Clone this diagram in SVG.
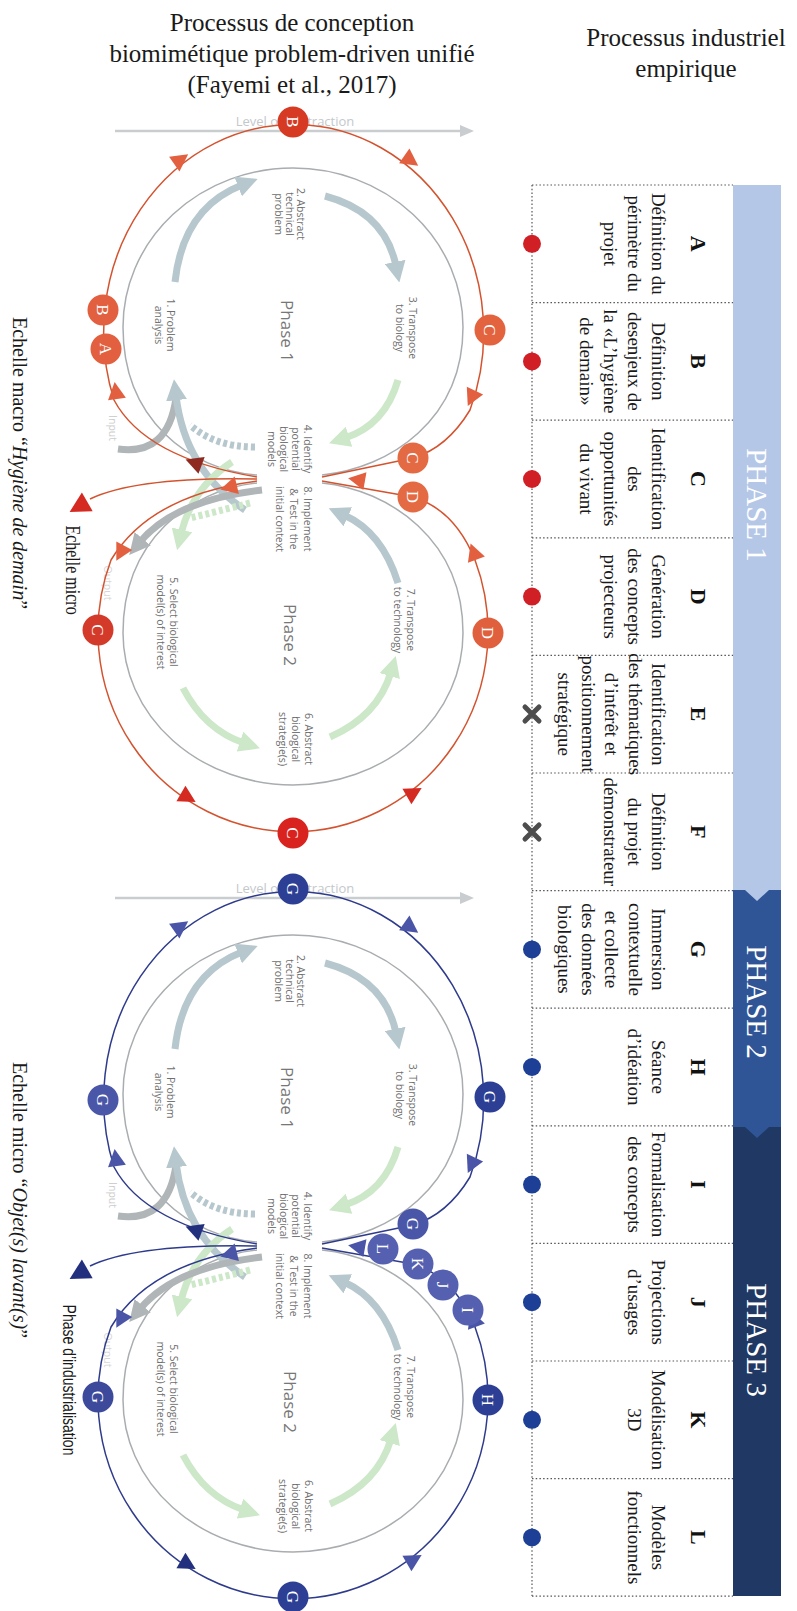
<svg xmlns="http://www.w3.org/2000/svg" width="797" height="1611" viewBox="0 0 797 1611">
<style>
.serif{font-family:"Liberation Serif","Times New Roman",serif}
.title{font-size:25px;fill:#1a1a1a;text-anchor:middle}
.cell{font-size:19px;fill:#1a1a1a;text-anchor:middle}
.letter{font-size:22px;font-weight:bold;fill:#111;text-anchor:middle}
.phase{font-size:29px;fill:#fff;text-anchor:middle}
.fl{font-family:"Open Sans","Liberation Sans",sans-serif;font-size:10.5px;fill:#6e6e6e;text-anchor:middle}
.fp{font-family:"Open Sans","Liberation Sans",sans-serif;font-size:17px;fill:#777;text-anchor:middle}
.lvl{font-family:"Open Sans","Liberation Sans",sans-serif;font-size:13px;fill:#c4c8cb;text-anchor:middle}
.inner{fill:none;stroke:#a9adb0;stroke-width:1.5}
.thk{fill:none;stroke-width:7}
.gb{stroke:#b6c7cd}
.gr{stroke:#cde7c9}
.gy{stroke:#b0b5b7}
.dot{stroke:#555;stroke-width:1.2;stroke-dasharray:1.5 2.2;fill:none}
.rl{fill:none;stroke:#d4532f;stroke-width:1.5}
.bl{fill:none;stroke:#2e3b8c;stroke-width:1.5}
.lc{font-family:"Liberation Serif","Times New Roman",serif;font-size:17px;fill:#fff;text-anchor:middle}
.side{font-family:"Liberation Serif","Times New Roman",serif;font-size:20px;fill:#1a1a1a;text-anchor:middle}
.co{fill:#e2603f}
.cr{fill:#d42a22}
.cdk{fill:#8e2a20}
.cb{fill:#4a55a8}
.cbd{fill:#22307e}
</style>
<defs>
<path id="tri" d="M10,0 L-7,-9 L-7,9 Z"/>
<marker id="mgb" viewBox="0 0 10 10" refX="2" refY="5" markerWidth="3" markerHeight="3" orient="auto"><path d="M0,0 L10,5 L0,10 Z" fill="#b6c7cd"/></marker>
<marker id="mgr" viewBox="0 0 10 10" refX="2" refY="5" markerWidth="3" markerHeight="3" orient="auto"><path d="M0,0 L10,5 L0,10 Z" fill="#cde7c9"/></marker>
<marker id="mgy" viewBox="0 0 10 10" refX="2" refY="5" markerWidth="3" markerHeight="3" orient="auto"><path d="M0,0 L10,5 L0,10 Z" fill="#b0b5b7"/></marker>
<g id="fay">
  <line x1="115" y1="131" x2="462" y2="131" stroke="#c9cdd0" stroke-width="2.5"/>
  <path d="M474,131 L460,125 L460,137 Z" fill="#c9cdd0"/>
  <text class="lvl" x="295" y="126">Level of abstraction</text>
  <path class="inner" d="M257,475 C190,470 123,420 123,327 A170,159 0 0 1 463,327 C463,420 390,468 322,475"/>
  <path class="inner" d="M257,483 C190,490 123,540 123,633 A170,152 0 0 0 463,633 C463,540 390,490 322,483"/>
  <path class="thk gb" marker-end="url(#mgb)" d="M175,282 Q183,208 242,185"/>
  <path class="thk gb" marker-end="url(#mgb)" d="M325,196 Q385,212 396,266"/>
  <path class="thk gr" marker-end="url(#mgr)" d="M398,380 Q385,425 345,438"/>
  <path class="thk gb" stroke-dasharray="4 3" d="M255,447 Q215,447 190,425"/>
  <path class="thk gy" d="M118,449 Q168,456 176,398"/>
  <path class="thk gb" marker-end="url(#mgb)" d="M245,510 Q185,470 176,396"/>
  <path class="thk gr" marker-end="url(#mgr)" d="M232,462 Q192,488 181,534"/>
  <path class="thk gr" marker-end="url(#mgr)" d="M183,688 Q205,730 244,743"/>
  <path class="thk gr" marker-end="url(#mgr)" d="M330,737 Q378,716 391,672"/>
  <path class="thk gb" marker-end="url(#mgb)" d="M398,583 Q382,532 344,515"/>
  <path class="thk gy" marker-end="url(#mgy)" d="M262,490 Q175,500 140,542"/>
  <path class="thk gr" stroke-dasharray="4 3" d="M250,503 Q215,512 190,518"/>
  <text class="fl" transform="translate(297,214) rotate(90)"><tspan x="0">2. Abstract</tspan><tspan x="0" dy="11">technical</tspan><tspan x="0" dy="11">problem</tspan></text>
  <text class="fl" transform="translate(167,325) rotate(90)"><tspan x="0">1. Problem</tspan><tspan x="0" dy="12">analysis</tspan></text>
  <text class="fl" transform="translate(409,328) rotate(90)"><tspan x="0">3. Transpose</tspan><tspan x="0" dy="13">to biology</tspan></text>
  <text class="fp" transform="translate(281,331) rotate(90)">Phase 1</text>
  <text class="fl" transform="translate(304,449) rotate(90)"><tspan x="0">4. Identify</tspan><tspan x="0" dy="12">potential</tspan><tspan x="0" dy="12">biological</tspan><tspan x="0" dy="12">models</tspan></text>
  <text class="fl" transform="translate(304,519) rotate(90)"><tspan x="0">8. Implement</tspan><tspan x="0" dy="14">&amp; Test in the</tspan><tspan x="0" dy="14">initial context</tspan></text>
  <text class="fl" transform="translate(170,622) rotate(90)"><tspan x="0">5. Select biological</tspan><tspan x="0" dy="13">model(s) of interest</tspan></text>
  <text class="fp" transform="translate(284,635) rotate(90)">Phase 2</text>
  <text class="fl" transform="translate(305,739) rotate(90)"><tspan x="0">6. Abstract</tspan><tspan x="0" dy="13">biological</tspan><tspan x="0" dy="13">strategie(s)</tspan></text>
  <text class="fl" transform="translate(407,620) rotate(90)"><tspan x="0">7. Transpose</tspan><tspan x="0" dy="13">to technology</tspan></text>
  <text class="fl" transform="translate(109,428) rotate(90)" style="fill:#cccccc">Input</text>
  <text class="fl" transform="translate(104,583) rotate(90)" style="fill:#d6d6d6">Output</text>
</g>
</defs>

<rect width="797" height="1611" fill="#ffffff"/>

<g id="titles" class="serif">
  <text class="title" x="292" y="31">Processus de conception</text>
  <text class="title" x="292" y="62">biomimétique problem-driven unifié</text>
  <text class="title" x="292" y="93">(Fayemi et al., 2017)</text>
  <text class="title" x="686" y="46">Processus industriel</text>
  <text class="title" x="686" y="77">empirique</text>
</g>

<g id="phase-band">
  <rect x="733" y="1127" width="48" height="469" fill="#1f3864"/>
  <path d="M733,890 H781 V1127 H769 L757,1138 L745,1127 H733 Z" fill="#2f5597"/>
  <path d="M733,185 H781 V890 H769 L757,901 L745,890 H733 Z" fill="#b4c7e7"/>
  <text class="serif phase" transform="translate(747,505) rotate(90)">PHASE 1</text>
  <text class="serif phase" transform="translate(747,1002) rotate(90)">PHASE 2</text>
  <text class="serif phase" transform="translate(747,1340) rotate(90)">PHASE 3</text>
</g>

<g id="table-grid">
  <path class="dot" d="M532,185 V1596"/>
  <path class="dot" d="M532,185 H733 M532,302.6 H733 M532,420.2 H733 M532,537.8 H733 M532,655.4 H733 M532,773 H733 M532,890.6 H733 M532,1008.2 H733 M532,1125.8 H733 M532,1243.4 H733 M532,1361 H733 M532,1478.6 H733 M532,1596.2 H733"/>
</g>

<g id="row-A"><text class="serif letter" transform="translate(691,243.8) rotate(90)">A</text><text class="serif cell" transform="translate(652,243.8) rotate(90)"><tspan x="0">Définition du</tspan><tspan x="0" dy="24">périmètre du</tspan><tspan x="0" dy="24">projet</tspan></text><circle cx="532" cy="243.8" r="9" fill="#d11f26"/></g>
<g id="row-B"><text class="serif letter" transform="translate(691,361.4) rotate(90)">B</text><text class="serif cell" transform="translate(652,361.4) rotate(90)"><tspan x="0">Définition</tspan><tspan x="0" dy="24">desenjeux de</tspan><tspan x="0" dy="24">la «L’hygiène</tspan><tspan x="0" dy="24">de demain»</tspan></text><circle cx="532" cy="361.4" r="9" fill="#d11f26"/></g>
<g id="row-C"><text class="serif letter" transform="translate(691,479) rotate(90)">C</text><text class="serif cell" transform="translate(652,479) rotate(90)"><tspan x="0">Identification</tspan><tspan x="0" dy="24">des</tspan><tspan x="0" dy="24">opportunités</tspan><tspan x="0" dy="24">du vivant</tspan></text><circle cx="532" cy="479" r="9" fill="#d11f26"/></g>
<g id="row-D"><text class="serif letter" transform="translate(691,596.6) rotate(90)">D</text><text class="serif cell" transform="translate(652,596.6) rotate(90)"><tspan x="0">Génération</tspan><tspan x="0" dy="24">des concepts</tspan><tspan x="0" dy="24">projecteurs</tspan></text><circle cx="532" cy="596.6" r="9" fill="#d11f26"/></g>
<g id="row-E"><text class="serif letter" transform="translate(691,714.2) rotate(90)">E</text><text class="serif cell" transform="translate(652,714.2) rotate(90)"><tspan x="0">Identification</tspan><tspan x="0" dy="23.5">des thématiques</tspan><tspan x="0" dy="23.5">d’intérêt et</tspan><tspan x="0" dy="23.5">positionnement</tspan><tspan x="0" dy="23.5">stratégique</tspan></text><path d="M525,707 L539,721 M539,707 L525,721" stroke="#4d4d4d" stroke-width="5" stroke-linecap="round"/></g>
<g id="row-F"><text class="serif letter" transform="translate(691,831.8) rotate(90)">F</text><text class="serif cell" transform="translate(652,831.8) rotate(90)"><tspan x="0">Définition</tspan><tspan x="0" dy="24">du projet</tspan><tspan x="0" dy="24">démonstrateur</tspan></text><path d="M525,825 L539,839 M539,825 L525,839" stroke="#4d4d4d" stroke-width="5" stroke-linecap="round"/></g>
<g id="row-G"><text class="serif letter" transform="translate(691,949.4) rotate(90)">G</text><text class="serif cell" transform="translate(652,949.4) rotate(90)"><tspan x="0">Immersion</tspan><tspan x="0" dy="23.5">contextuelle</tspan><tspan x="0" dy="23.5">et collecte</tspan><tspan x="0" dy="23.5">des données</tspan><tspan x="0" dy="23.5">biologiques</tspan></text><circle cx="532" cy="949.4" r="9" fill="#1e3f96"/></g>
<g id="row-H"><text class="serif letter" transform="translate(691,1067) rotate(90)">H</text><text class="serif cell" transform="translate(652,1067) rotate(90)"><tspan x="0">Séance</tspan><tspan x="0" dy="24">d’idéation</tspan></text><circle cx="532" cy="1067" r="9" fill="#1e3f96"/></g>
<g id="row-I"><text class="serif letter" transform="translate(691,1184.6) rotate(90)">I</text><text class="serif cell" transform="translate(652,1184.6) rotate(90)"><tspan x="0">Formalisation</tspan><tspan x="0" dy="24">des concepts</tspan></text><circle cx="532" cy="1184.6" r="9" fill="#1e3f96"/></g>
<g id="row-J"><text class="serif letter" transform="translate(691,1302.2) rotate(90)">J</text><text class="serif cell" transform="translate(652,1302.2) rotate(90)"><tspan x="0">Projections</tspan><tspan x="0" dy="24">d’usages</tspan></text><circle cx="532" cy="1302.2" r="9" fill="#1e3f96"/></g>
<g id="row-K"><text class="serif letter" transform="translate(691,1419.8) rotate(90)">K</text><text class="serif cell" transform="translate(652,1419.8) rotate(90)"><tspan x="0">Modélisation</tspan><tspan x="0" dy="24">3D</tspan></text><circle cx="532" cy="1419.8" r="9" fill="#1e3f96"/></g>
<g id="row-L"><text class="serif letter" transform="translate(691,1537.4) rotate(90)">L</text><text class="serif cell" transform="translate(652,1537.4) rotate(90)"><tspan x="0">Modèles</tspan><tspan x="0" dy="24">fonctionnels</tspan></text><circle cx="532" cy="1537.4" r="9" fill="#1e3f96"/></g>

<g id="fayemi-macro"><use href="#fay"/></g>
<g id="fayemi-micro"><use href="#fay" transform="translate(0,767)"/></g>

<g id="connectors">
  <g id="red-loops">
    <path class="rl" d="M257,477 Q145,458 114,400 A190,208 0 1 1 470,410 Q447,448 413,458 L322,477"/>
    <path class="rl" d="M257,481 Q150,495 111,560 A195,200 0 1 0 475,560 Q455,510 413,497 L322,481"/>
    <path class="rl" stroke="#b8231d" d="M257,479 C205,478 130,480 90,499"/>
    <use href="#tri" class="cdk" transform="translate(195,463) rotate(200)"/>
    <use href="#tri" class="co" transform="translate(116,392) rotate(262)"/>
    <use href="#tri" class="co" transform="translate(180,160) rotate(325)"/>
    <use href="#tri" class="co" transform="translate(410,160) rotate(35)"/>
    <use href="#tri" class="co" transform="translate(472,397) rotate(115)"/>
    <use href="#tri" class="co" transform="translate(230,487) rotate(166)"/>
    <use href="#tri" class="co" transform="translate(121,552) rotate(118)"/>
    <use href="#tri" class="cr" transform="translate(187,797) rotate(30)"/>
    <use href="#tri" class="cr" transform="translate(413,793) rotate(330)"/>
    <use href="#tri" class="co" transform="translate(474,553) rotate(250)"/>
    <use href="#tri" class="co" transform="translate(358,480) rotate(190)"/>
    <use href="#tri" class="cr" transform="translate(80,506) rotate(150) scale(1.2)"/>
  </g>
  <g id="blue-loops">
    <g transform="translate(0,767)">
      <path class="bl" d="M257,477 Q145,458 114,400 A190,208 0 1 1 470,410 Q447,448 413,458 L322,477"/>
      <path class="bl" d="M257,481 Q150,495 111,560 A195,200 0 1 0 475,560 Q455,510 413,497 L322,481"/>
      <path class="bl" stroke="#1f2f7a" d="M257,479 C205,478 130,480 90,499"/>
    </g>
    <use href="#tri" class="cbd" transform="translate(195,1230) rotate(200)"/>
    <use href="#tri" class="cb" transform="translate(116,1159) rotate(262)"/>
    <use href="#tri" class="cb" transform="translate(180,927) rotate(325)"/>
    <use href="#tri" class="cb" transform="translate(410,927) rotate(35)"/>
    <use href="#tri" class="cb" transform="translate(472,1164) rotate(115)"/>
    <use href="#tri" class="cb" transform="translate(230,1254) rotate(166)"/>
    <use href="#tri" class="cb" transform="translate(121,1319) rotate(118)"/>
    <use href="#tri" class="cbd" transform="translate(187,1564) rotate(30)"/>
    <use href="#tri" class="cb" transform="translate(413,1560) rotate(330)"/>
    <use href="#tri" class="cb" transform="translate(474,1320) rotate(250)"/>
    <use href="#tri" class="cb" transform="translate(358,1247) rotate(190)"/>
    <use href="#tri" class="cbd" transform="translate(80,1273) rotate(150) scale(1.2)"/>
  </g>
</g>

<g id="nodes-red">
  <g id="r-B-top"><circle cx="293" cy="122" r="15.5" fill="#d63a22"/><text class="lc" transform="translate(287,122) rotate(90)">B</text></g>
  <g id="r-B-left"><circle cx="103" cy="310" r="15.5" fill="#e2603f"/><text class="lc" transform="translate(97,310) rotate(90)">B</text></g>
  <g id="r-A-left"><circle cx="106" cy="349" r="15.5" fill="#e2603f"/><text class="lc" transform="translate(100,349) rotate(90)">A</text></g>
  <g id="r-C-right"><circle cx="490" cy="330" r="15.5" fill="#e4633f"/><text class="lc" transform="translate(484,330) rotate(90)">C</text></g>
  <g id="r-C-mid"><circle cx="413" cy="458" r="15.5" fill="#e46a43"/><text class="lc" transform="translate(407,458) rotate(90)">C</text></g>
  <g id="r-D-mid"><circle cx="413" cy="497" r="15.5" fill="#e46a43"/><text class="lc" transform="translate(407,497) rotate(90)">D</text></g>
  <g id="r-D-right"><circle cx="488" cy="633" r="15.5" fill="#e0603e"/><text class="lc" transform="translate(482,633) rotate(90)">D</text></g>
  <g id="r-C-left"><circle cx="98" cy="630" r="15.5" fill="#d43a2a"/><text class="lc" transform="translate(92,630) rotate(90)">C</text></g>
  <g id="r-C-bottom"><circle cx="293" cy="833" r="15.5" fill="#d9231f"/><text class="lc" transform="translate(287,833) rotate(90)">C</text></g>
</g>

<g id="nodes-blue">
  <g id="b-G-top"><circle cx="293" cy="889" r="15.5" fill="#2c3f95"/><text class="lc" transform="translate(287,889) rotate(90)">G</text></g>
  <g id="b-G-left"><circle cx="103" cy="1100" r="15.5" fill="#4a56a8"/><text class="lc" transform="translate(97,1100) rotate(90)">G</text></g>
  <g id="b-G-right"><circle cx="490" cy="1097" r="15.5" fill="#2c3f95"/><text class="lc" transform="translate(484,1097) rotate(90)">G</text></g>
  <g id="b-G-mid"><circle cx="413" cy="1224" r="15.5" fill="#4a56a8"/><text class="lc" transform="translate(407,1224) rotate(90)">G</text></g>
  <g id="b-L"><circle cx="383" cy="1249" r="15.5" fill="#5560b0"/><text class="lc" transform="translate(377,1249) rotate(90)">L</text></g>
  <g id="b-K"><circle cx="418" cy="1264" r="15.5" fill="#5560b0"/><text class="lc" transform="translate(412,1264) rotate(90)">K</text></g>
  <g id="b-J"><circle cx="443" cy="1285" r="15.5" fill="#5560b0"/><text class="lc" transform="translate(437,1285) rotate(90)">J</text></g>
  <g id="b-I"><circle cx="468" cy="1310" r="15.5" fill="#5560b0"/><text class="lc" transform="translate(462,1310) rotate(90)">I</text></g>
  <g id="b-H"><circle cx="488" cy="1400" r="15.5" fill="#2c3f95"/><text class="lc" transform="translate(482,1400) rotate(90)">H</text></g>
  <g id="b-G-left2"><circle cx="98" cy="1397" r="15.5" fill="#3d4a9c"/><text class="lc" transform="translate(92,1397) rotate(90)">G</text></g>
  <g id="b-G-bottom"><circle cx="293" cy="1597" r="15.5" fill="#2c3f95"/><text class="lc" transform="translate(287,1597) rotate(90)">G</text></g>
</g>

<g id="side-labels">
  <text class="side" transform="translate(13,463) rotate(90)">Echelle macro “<tspan font-style="italic">Hygiène de demain</tspan>”</text>
  <text class="side" transform="translate(13,1200) rotate(90)">Echelle micro “<tspan font-style="italic">Objet(s) lavant(s)</tspan>”</text>
  <text class="side" style="font-size:16px" transform="translate(66,570) scale(1.3,1) rotate(90)">Echelle micro</text>
  <text style="font-family:'Liberation Sans',Arial,sans-serif;font-size:14px;fill:#1a1a1a;text-anchor:middle" transform="translate(63,1380) scale(1.3,1) rotate(90)">Phase d’industrialisation</text>
</g>
</svg>
